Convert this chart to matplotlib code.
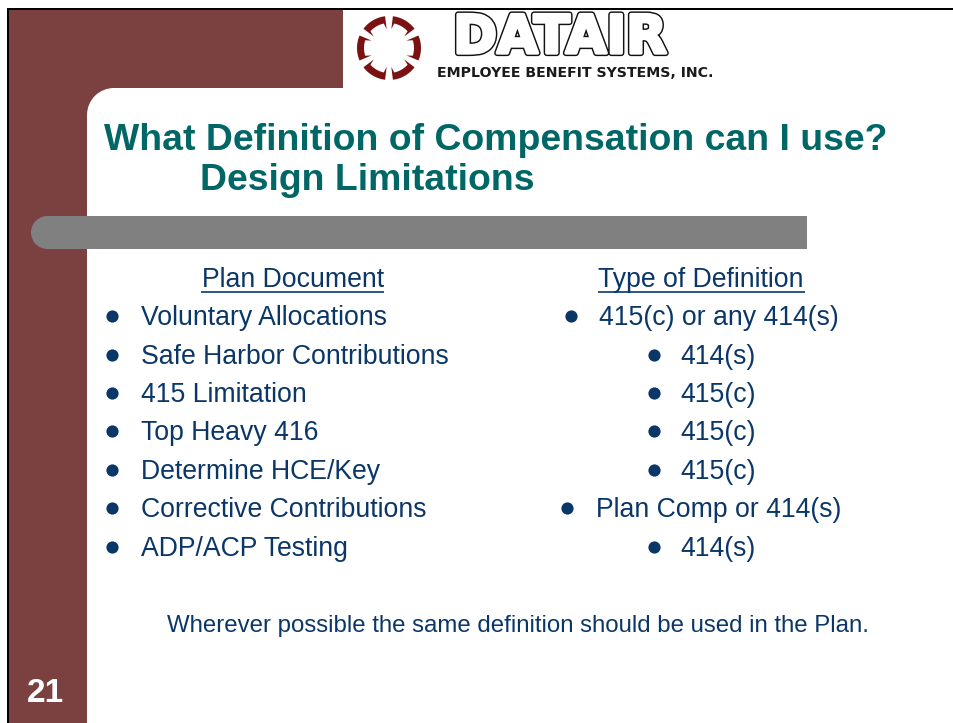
import numpy as np
import matplotlib
matplotlib.use("Agg")
import matplotlib.pyplot as plt
from matplotlib.patches import Rectangle, Wedge, Polygon
import matplotlib.patheffects as pe

title_lines = ["What Definition of Compensation can I use?", "Design Limitations"]
header_left = "Plan Document"
header_right = "Type of Definition"
left_items = ["Voluntary Allocations", "Safe Harbor Contributions", "415 Limitation",
              "Top Heavy 416", "Determine HCE/Key", "Corrective Contributions", "ADP/ACP Testing"]
right_items = ["415(c) or any 414(s)", "414(s)", "415(c)", "415(c)", "415(c)",
               "Plan Comp or 414(s)", "414(s)"]
footer = "Wherever possible the same definition should be used in the Plan."
page_number = "21"
logo_name = "DATAIR"
logo_sub = "EMPLOYEE BENEFIT SYSTEMS, INC."

MAROON = "#7B4141"
TEAL = "#006666"
NAVY = "#0B3768"
GRAY = "#808080"
LOGO_RED = "#7A1212"
FONT = "Liberation Sans"

fig = plt.figure(figsize=(9.54, 7.23), dpi=100, facecolor="white")
ax = fig.add_axes([0, 0, 1, 1])
ax.set_xlim(0, 954)
ax.set_ylim(723, 0)
ax.axis("off")

# Slide frame
CORNER = 27
ax.add_patch(Rectangle((9, 10), 334, 78, fc=MAROON, ec="none", zorder=1))
ax.add_patch(Rectangle((9, 10), 78 + CORNER, 78 + CORNER, fc=MAROON, ec="none", zorder=1))
ax.add_patch(Rectangle((9, 10), 78, 713, fc=MAROON, ec="none", zorder=1))
ax.add_patch(Wedge((87 + CORNER, 88 + CORNER), CORNER, 180, 270, fc="white", ec="none", zorder=2))
ax.add_patch(Rectangle((87, 88 + CORNER), 867, 640, fc="white", ec="none", zorder=2))
ax.add_patch(Rectangle((87 + CORNER, 88), 840, 640, fc="white", ec="none", zorder=2))
ax.add_patch(Rectangle((7, 8), 947, 2.4, fc="black", ec="none", zorder=5))
ax.add_patch(Rectangle((7, 8), 2.4, 715, fc="black", ec="none", zorder=5))

# Gray bar
ax.add_patch(Wedge((47.5, 232.5), 16.5, 90, 270, fc=GRAY, ec="none", zorder=3))
ax.add_patch(Rectangle((46, 216), 761, 33, fc=GRAY, ec="none", zorder=3))


# Logo: six brackets with inward tabs at both ends
def bracket(cx, cy, a0, a1, r_out=32, r_in=25, r_tab=19, inset=5):
    outer = np.radians(np.linspace(a0, a1, 24))
    inner = np.radians(np.linspace(a1 - inset, a0 + inset, 24))
    xs = list(cx + r_out * np.cos(outer))
    ys = list(cy - r_out * np.sin(outer))
    xs.append(cx + r_tab * np.cos(np.radians(a1)))
    ys.append(cy - r_tab * np.sin(np.radians(a1)))
    xs += list(cx + r_in * np.cos(inner))
    ys += list(cy - r_in * np.sin(inner))
    xs.append(cx + r_tab * np.cos(np.radians(a0)))
    ys.append(cy - r_tab * np.sin(np.radians(a0)))
    return Polygon(np.column_stack([xs, ys]), closed=True, fc=LOGO_RED, ec="none", zorder=4)


for a in [-23, 37, 97, 157, 217, 277]:
    ax.add_patch(bracket(389, 48, a, a + 46))

ax.text(560, 53, logo_name, family="DejaVu Sans", weight="bold", fontsize=38,
        color="white", ha="center", va="baseline", zorder=4,
        path_effects=[pe.Stroke(linewidth=4.5, foreground="#111111"),
                      pe.Stroke(linewidth=2.4, foreground="white"),
                      pe.Normal()])
ax.text(437, 73, logo_sub, family="DejaVu Sans", weight="bold", fontsize=10.2,
        color="#1a1a1a", ha="left", va="center", zorder=4)

# Title
ax.text(104, 140.5, title_lines[0], family=FONT, weight="bold", fontsize=26.9, color=TEAL,
        ha="left", va="center", zorder=4)
ax.text(200, 180.5, title_lines[1], family=FONT, weight="bold", fontsize=26.9, color=TEAL,
        ha="left", va="center", zorder=4)

# Headers
TEXT_SIZE = 19.2
ax.text(293, 280, header_left, family=FONT, fontsize=TEXT_SIZE, color=NAVY, ha="center", va="center", zorder=4)
ax.text(701, 280, header_right, family=FONT, fontsize=TEXT_SIZE, color=NAVY, ha="center", va="center", zorder=4)
ax.plot([201, 384], [291.5, 291.5], color=NAVY, lw=1.2, zorder=4, solid_capstyle="butt")
ax.plot([598, 805], [291.5, 291.5], color=NAVY, lw=1.2, zorder=4, solid_capstyle="butt")

# Rows
row_y = [316, 355, 393, 431, 470, 508, 547]
right_text_x = [599, 680, 680, 680, 680, 596, 680]
right_bullet_x = [571, 654, 654, 654, 654, 567, 654]
for y, lt, rt, tx, bx in zip(row_y, left_items, right_items, right_text_x, right_bullet_x):
    ax.plot([112.5], [y], "o", ms=8.8, color=NAVY, mec="none", zorder=4)
    ax.plot([bx], [y], "o", ms=8.8, color=NAVY, mec="none", zorder=4)
    ax.text(141, y + 2, lt, family=FONT, fontsize=TEXT_SIZE, color=NAVY, ha="left", va="center", zorder=4)
    ax.text(tx, y + 2, rt, family=FONT, fontsize=TEXT_SIZE, color=NAVY, ha="left", va="center", zorder=4)

ax.text(167, 626, footer, family=FONT, fontsize=17.3, color=NAVY, ha="left", va="center", zorder=4)
ax.text(27, 693, page_number, family=FONT, weight="bold", fontsize=24, color="white",
        ha="left", va="center", zorder=4)

fig.savefig("out.png", dpi=100, facecolor="white")
